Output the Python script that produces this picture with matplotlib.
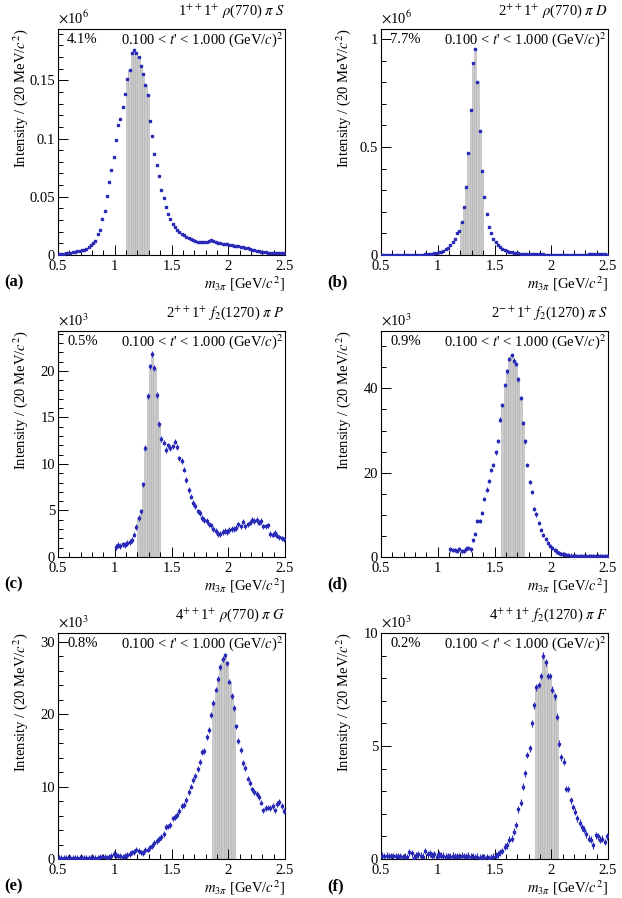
import numpy as np
import matplotlib
matplotlib.use("Agg")
import matplotlib.pyplot as plt
from matplotlib.ticker import MultipleLocator, FormatStrFormatter

plt.rcParams["font.family"] = ["Liberation Serif", "DejaVu Serif"]
plt.rcParams["mathtext.fontset"] = "stix"

BIN_W = 0.02  # 20 MeV bins

# intensities per 20 MeV bin, first bin centre given by *_START
A_START = 0.51
A_VALS = [  # x10^6
    0.0008, 0.0010, 0.0012, 0.0013, 0.0016, 0.0020, 0.0024, 0.0028, 0.0033, 0.0038,
    0.0041, 0.0046, 0.0055, 0.0068, 0.0083, 0.0100, 0.0123, 0.0180, 0.0215, 0.0310,
    0.0375, 0.0510, 0.0630, 0.0730, 0.0845, 0.0990, 0.1120, 0.1170, 0.1270, 0.1380,
    0.1510, 0.1590, 0.1730, 0.1760, 0.1730, 0.1700, 0.1620, 0.1550, 0.1460, 0.1370,
    0.1150, 0.1020, 0.0870, 0.0770, 0.0680, 0.0560, 0.0490, 0.0410, 0.0350, 0.0310,
    0.0270, 0.0240, 0.0215, 0.0195, 0.0180, 0.0168, 0.0155, 0.0145, 0.0135, 0.0125,
    0.0118, 0.0113, 0.0112, 0.0110, 0.0108, 0.0110, 0.0122, 0.0133, 0.0122, 0.0110,
    0.0104, 0.0100, 0.0098, 0.0095, 0.0093, 0.0090, 0.0086, 0.0081, 0.0077, 0.0073,
    0.0069, 0.0065, 0.0060, 0.0056, 0.0050, 0.0045, 0.0040, 0.0036, 0.0032, 0.0028,
    0.0025, 0.0023, 0.0020, 0.0019, 0.0018, 0.0017, 0.0017, 0.0016, 0.0016, 0.0015,
]
B_START = 0.51
B_VALS = [  # x10^6
    0.0005, 0.0005, 0.0006, 0.0006, 0.0007, 0.0007, 0.0008, 0.0008, 0.0009, 0.0010,
    0.0010, 0.0011, 0.0012, 0.0013, 0.0014, 0.0015, 0.0017, 0.0019, 0.0022, 0.0025,
    0.0030, 0.0040, 0.0050, 0.0070, 0.0090, 0.0120, 0.0160, 0.0200, 0.0260, 0.0340,
    0.0450, 0.0580, 0.0750, 0.1000, 0.1130, 0.1550, 0.2210, 0.3170, 0.4700, 0.6690,
    0.8900, 0.9550, 0.8000, 0.5730, 0.3900, 0.2680, 0.1900, 0.1300, 0.1000, 0.0750,
    0.0580, 0.0450, 0.0360, 0.0290, 0.0230, 0.0190, 0.0150, 0.0120, 0.0100, 0.0080,
    0.0070, 0.0060, 0.0052, 0.0046, 0.0041, 0.0037, 0.0034, 0.0031, 0.0029, 0.0027,
    0.0025, 0.0024, 0.0023, 0.0022, 0.0021, 0.0020, 0.0020, 0.0019, 0.0019, 0.0018,
    0.0018, 0.0018, 0.0017, 0.0017, 0.0017, 0.0017, 0.0018, 0.0018, 0.0019, 0.0020,
    0.0022, 0.0025, 0.0030, 0.0035, 0.0040, 0.0038, 0.0032, 0.0028, 0.0025, 0.0022,
]
C_START = 1.01
C_VALS = [  # x10^3
    1.1, 1.3, 1.2, 1.35, 1.3, 1.5, 1.6, 1.8, 2.4, 3.2,
    4.2, 4.9, 7.8, 11.7, 17.3, 20.5, 21.8, 20.3, 17.4, 14.3,
    12.7, 12.3, 11.5, 12.0, 11.7, 11.9, 12.4, 11.8, 10.6, 10.3,
    9.4, 8.3, 7.2, 6.5, 5.8, 5.5, 4.9, 4.7, 4.2, 4.0,
    3.9, 3.5, 3.4, 3.0, 2.8, 2.5, 2.5, 2.7, 2.8, 2.7,
    2.9, 3.0, 3.0, 3.1, 3.5, 3.3, 3.8, 3.3, 3.5, 3.7,
    4.0, 3.9, 4.0, 3.7, 3.9, 3.3, 3.3, 3.4, 2.5, 2.4,
    2.6, 2.3, 2.1, 2.0, 1.9,
]
D_START = 1.11
D_VALS = [  # x10^3
    1.8, 1.6, 1.7, 1.4, 1.9, 1.5, 1.4, 2.0, 2.1, 1.8,
    4.1, 5.4, 8.6, 8.6, 10.5, 13.8, 16.0, 18.1, 20.6, 21.9,
    24.8, 27.5, 32.6, 36.0, 40.8, 44.0, 47.0, 48.0, 46.6, 45.8,
    42.1, 37.7, 31.8, 27.4, 21.9, 17.7, 15.5, 11.4, 10.1, 8.0,
    6.4, 5.2, 4.2, 3.3, 2.6, 2.1, 1.6, 1.3, 1.0, 0.8,
    0.6, 0.5, 0.4, 0.35, 0.3, 0.25, 0.3, 0.25, 0.3, 0.2,
    0.25, 0.3, 0.25, 0.2, 0.25, 0.3, 0.2, 0.25, 0.2, 0.2,
]
E_START = 0.51
E_VALS = [  # x10^3
    0.1, 0.2, 0.1, 0.2, 0.2, 0.1, 0.1, 0.2, 0.1, 0.2,
    0.1, 0.2, 0.2, 0.1, 0.2, 0.2, 0.2, 0.2, 0.3, 0.3,
    0.3, 0.2, 0.3, 0.4, 0.7, 0.5, 0.4, 0.4, 0.3, 0.4,
    0.5, 0.7, 0.9, 1.0, 1.3, 1.1, 0.9, 0.8, 1.2, 1.3,
    1.6, 1.8, 2.2, 2.5, 2.8, 3.0, 3.5, 4.4, 4.5, 4.7,
    5.6, 5.8, 6.1, 6.6, 7.3, 7.5, 8.2, 9.2, 10.0, 10.9,
    11.5, 12.4, 13.4, 14.8, 14.9, 16.8, 17.8, 19.9, 21.5, 23.4,
    24.9, 26.5, 27.6, 28.1, 27.0, 24.5, 22.5, 20.8, 18.3, 16.3,
    15.0, 13.3, 12.6, 11.1, 10.5, 9.6, 9.3, 9.0, 8.6, 7.8,
    6.7, 7.0, 7.1, 7.0, 7.3, 6.7, 7.6, 7.9, 7.3, 6.6,
]
F_START = 0.51
F_VALS = [  # x10^3
    0.15, 0.12, 0.15, 0.12, 0.13, 0.12, 0.13, 0.10, 0.12, 0.08,
    0.10, 0.07, 0.30, 0.25, 0.05, 0.15, 0.20, 0.15, 0.10, 0.35,
    0.20, 0.25, 0.15, 0.20, 0.10, 0.20, 0.15, 0.15, 0.10, 0.12,
    0.10, 0.15, 0.10, 0.12, 0.10, 0.15, 0.12, 0.10, 0.15, 0.10,
    0.10, 0.08, 0.10, 0.05, 0.08, 0.05, 0.08, 0.03, 0.06, 0.10,
    0.15, 0.20, 0.30, 0.35, 0.55, 0.60, 0.85, 0.90, 1.20, 1.50,
    2.20, 2.50, 3.20, 3.80, 4.60, 4.90, 6.00, 6.80, 7.60, 7.70,
    8.10, 9.00, 8.70, 8.10, 8.10, 7.50, 7.20, 6.30, 5.10, 4.50,
    4.30, 3.10, 3.10, 2.60, 2.30, 2.10, 1.80, 1.60, 1.40, 1.30,
    1.10, 0.90, 0.85, 0.60, 1.05, 1.00, 0.85, 0.90, 0.75, 1.00,
]

PANELS = [
    # label, start, values, error, ymax, major, minor, exponent, wave, fraction, band
    ("(a)", A_START, A_VALS, 0.0008, 0.194, 0.05, 0.01, 6,
     r"1$^{++}$1$^{+}$ $\rho$(770) $\pi$ $S$", "4.1%", (1.10, 1.30)),
    ("(b)", B_START, B_VALS, 0.004, 1.046, 0.5, 0.1, 6,
     r"2$^{++}$1$^{+}$ $\rho$(770) $\pi$ $D$", "7.7%", (1.20, 1.40)),
    ("(c)", C_START, C_VALS, 0.3, 24.3, 5, 1, 3,
     r"2$^{++}$1$^{+}$ $f_2$(1270) $\pi$ $P$", "0.5%", (1.20, 1.40)),
    ("(d)", D_START, D_VALS, 0.5, 53.6, 20, 5, 3,
     r"2$^{-+}$1$^{+}$ $f_2$(1270) $\pi$ $S$", "0.9%", (1.56, 1.76)),
    ("(e)", E_START, E_VALS, 0.4, 31.2, 10, 2, 3,
     r"4$^{++}$1$^{+}$ $\rho$(770) $\pi$ $G$", "0.8%", (1.86, 2.06)),
    ("(f)", F_START, F_VALS, 0.15, 10.0, 5, 1, 3,
     r"4$^{++}$1$^{+}$ $f_2$(1270) $\pi$ $F$", "0.2%", (1.86, 2.06)),
]

BLUE = "#2a2ab8"
GREY = "#cbcbcb"
FS = 10.5

W, H = 622, 898
fig = plt.figure(figsize=(W / 100, H / 100), dpi=100)
lefts = [58, 381]
tops = [29, 331, 633]
aw, ah = 227, 226

for k, (lab, start, vals, err, ymax, major, minor, expo, wave, frac, band) in enumerate(PANELS):
    col, row = k % 2, k // 2
    ax = fig.add_axes([lefts[col] / W, 1 - (tops[row] + ah) / H, aw / W, ah / H])
    vals = np.asarray(vals)
    x = start + BIN_W * np.arange(len(vals))

    sel = (x > band[0]) & (x < band[1])
    ax.bar(x[sel], vals[sel], width=BIN_W, color=GREY, edgecolor="#b2b2b2",
           linewidth=0.4, zorder=1)
    ax.errorbar(x, vals, yerr=err, fmt="s", ms=1.8, color=BLUE, mec=BLUE,
                elinewidth=0.8, capsize=0, zorder=3)

    ax.set_xlim(0.5, 2.5)
    ax.set_ylim(0, ymax)
    ax.xaxis.set_major_locator(MultipleLocator(0.5))
    ax.xaxis.set_minor_locator(MultipleLocator(0.1))
    ax.yaxis.set_major_locator(MultipleLocator(major))
    ax.yaxis.set_minor_locator(MultipleLocator(minor))
    ax.xaxis.set_major_formatter(FormatStrFormatter("%g"))
    ax.yaxis.set_major_formatter(FormatStrFormatter("%g"))
    ax.tick_params(which="both", direction="in", top=False, right=False,
                   labelsize=FS, width=0.7)
    ax.tick_params(which="major", length=7)
    ax.tick_params(axis="x", which="major", pad=3.5)
    ax.tick_params(axis="y", which="major", pad=2)
    ax.tick_params(which="minor", length=3.5)
    for s in ax.spines.values():
        s.set_linewidth(0.8)

    ax.text(0, 1.01, r"$\times$10$^{%d}$" % expo, transform=ax.transAxes,
            ha="left", va="bottom", fontsize=FS)
    ax.text(1.0, 1.04, wave, transform=ax.transAxes, ha="right", va="bottom",
            fontsize=FS)
    ax.text(0.04, 0.955, frac, transform=ax.transAxes, ha="left", va="center",
            fontsize=FS)
    ax.text(0.995, 0.955, r"0.100 < $t$' < 1.000 (GeV/$c$)$^2$",
            transform=ax.transAxes, ha="right", va="center", fontsize=FS)
    ax.text(-0.167, 1.0, r"Intensity / (20 MeV/$c^2$)", transform=ax.transAxes,
            rotation=90, ha="center", va="top", fontsize=FS)
    ax.text(1.0, -0.128, r"$m_{3\pi}$ [GeV/$c^2$]", transform=ax.transAxes,
            ha="right", va="center", fontsize=FS)
    ax.text(-0.235, -0.122, lab, transform=ax.transAxes, ha="left", va="center",
            fontsize=12, fontweight="bold")

fig.savefig("out.png", dpi=100)
